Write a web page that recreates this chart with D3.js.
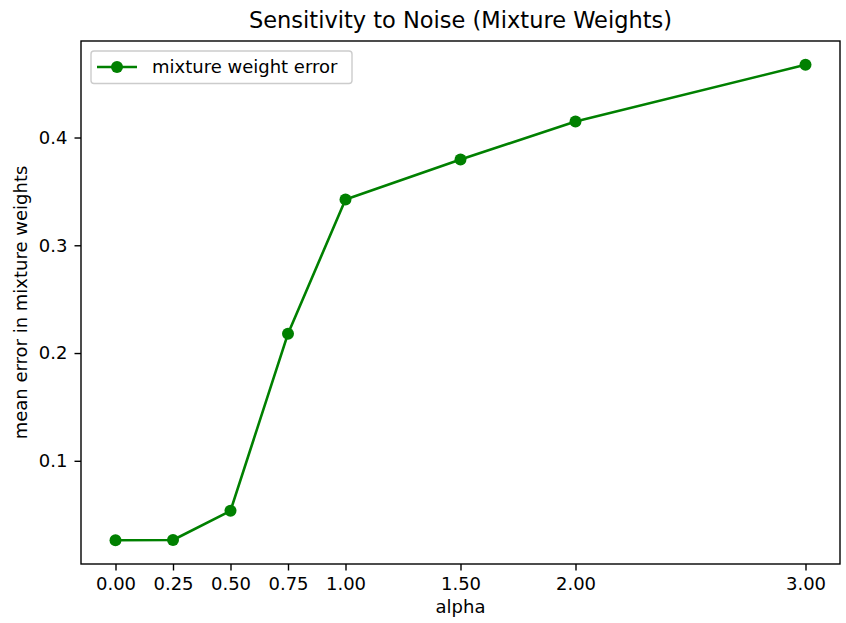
<!DOCTYPE html>
<html>
<head>
<meta charset="utf-8">
<script src="https://cdn.jsdelivr.net/npm/d3@7"></script>
<style>
  html, body { margin: 0; padding: 0; background: #fff; }
  svg { display: block; font-family: "DejaVu Sans", sans-serif; }
</style>
</head>
<body>
<svg id="chart" width="846" height="623"></svg>
<script>
// Noise level (alpha) and the resulting mean mixture-weight error
const alphas = [0.00, 0.25, 0.50, 0.75, 1.00, 1.50, 2.00, 3.00];
const weightError = [0.0263, 0.0265, 0.0536, 0.218, 0.3424, 0.3796, 0.4149, 0.4675];
const xTickValues = [0.00, 0.25, 0.50, 0.75, 1.00, 1.50, 2.00, 3.00];
const yTickValues = [0.1, 0.2, 0.3, 0.4];

const seriesName = "mixture weight error";
const titleText = "Sensitivity to Noise (Mixture Weights)";
const xLabelText = "alpha";
const yLabelText = "mean error in mixture weights";

const W = 846, H = 623;
const margin = { left: 81, right: 6, top: 41, bottom: 59 };
const plotW = W - margin.left - margin.right;
const plotH = H - margin.top - margin.bottom;
const green = "#008000";
const fontSize = "18px";

const svg = d3.select("#chart");
const g = svg.append("g").attr("transform", `translate(${margin.left},${margin.top})`);

// 5% padding around the data range on both axes
const xMin = d3.min(alphas), xMax = d3.max(alphas);
const xPad = (xMax - xMin) * 0.05;
const yMin = d3.min(weightError), yMax = d3.max(weightError);
const yPad = (yMax - yMin) * 0.05;

const x = d3.scaleLinear().domain([xMin - xPad, xMax + xPad]).range([0, plotW]);
const y = d3.scaleLinear().domain([yMin - yPad, yMax + yPad]).range([plotH, 0]);

// Axes
const xAxis = d3.axisBottom(x).tickValues(xTickValues).tickFormat(d3.format(".2f")).tickSize(6.5).tickPadding(7);
const yAxis = d3.axisLeft(y).tickValues(yTickValues).tickFormat(d3.format(".1f")).tickSize(6.5).tickPadding(7);

const gx = g.append("g").attr("transform", `translate(0,${plotH})`).call(xAxis);
const gy = g.append("g").call(yAxis);
[gx, gy].forEach(a => {
  a.select(".domain").remove();
  a.selectAll(".tick line").attr("stroke", "#000").attr("stroke-width", 1.4);
  a.selectAll(".tick text").attr("fill", "#000").style("font-size", fontSize).style("font-family", "DejaVu Sans, sans-serif");
});

// Data line and markers
const line = d3.line().x((d, i) => x(alphas[i])).y(d => y(d));
g.append("path")
  .datum(weightError)
  .attr("fill", "none")
  .attr("stroke", green)
  .attr("stroke-width", 2.6)
  .attr("stroke-linejoin", "round")
  .attr("d", line);

g.selectAll("circle.pt")
  .data(weightError)
  .join("circle")
  .attr("class", "pt")
  .attr("cx", (d, i) => x(alphas[i]))
  .attr("cy", d => y(d))
  .attr("r", 6)
  .attr("fill", green);

// Axes frame
g.append("rect")
  .attr("x", 0).attr("y", 0)
  .attr("width", plotW).attr("height", plotH)
  .attr("fill", "none")
  .attr("stroke", "#000")
  .attr("stroke-width", 1.4);

// Legend
const leg = g.append("g").attr("transform", "translate(10,10)");
leg.append("rect")
  .attr("x", 0).attr("y", 0)
  .attr("width", 261).attr("height", 32.5)
  .attr("rx", 3)
  .attr("fill", "#fff")
  .attr("fill-opacity", 0.8)
  .attr("stroke", "#ccc")
  .attr("stroke-width", 1.4);
leg.append("line")
  .attr("x1", 6).attr("x2", 46)
  .attr("y1", 16).attr("y2", 16)
  .attr("stroke", green).attr("stroke-width", 2.6);
leg.append("circle")
  .attr("cx", 26).attr("cy", 16).attr("r", 6).attr("fill", green);
leg.append("text")
  .attr("x", 61).attr("y", 16)
  .attr("dy", "0.35em")
  .style("font-size", fontSize)
  .text(seriesName);

// Title and axis labels
svg.append("text")
  .attr("x", margin.left + plotW / 2).attr("y", 28)
  .attr("text-anchor", "middle")
  .style("font-size", "22.5px")
  .text(titleText);

svg.append("text")
  .attr("x", margin.left + plotW / 2).attr("y", 613)
  .attr("text-anchor", "middle")
  .style("font-size", fontSize)
  .text(xLabelText);

svg.append("text")
  .attr("transform", `translate(27,${margin.top + plotH / 2}) rotate(-90)`)
  .attr("text-anchor", "middle")
  .style("font-size", fontSize)
  .text(yLabelText);
</script>
</body>
</html>
